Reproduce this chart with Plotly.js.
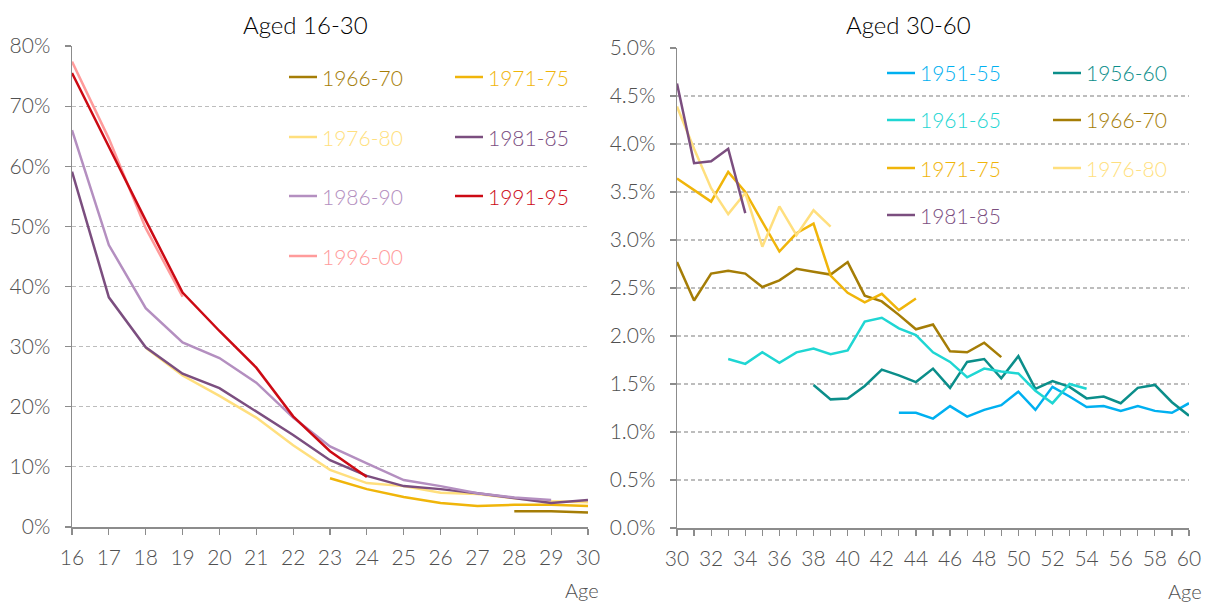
<!DOCTYPE html>
<html>
<head>
<meta charset="utf-8">
<script src="https://cdn.plot.ly/plotly-3.0.1.min.js"></script>
<style>html,body{margin:0;padding:0;background:#fff}#chart{width:1209px;height:602px}</style>
</head>
<body>
<div id="chart"></div>
<script>
// ---------- Data: left panel (Aged 16-30), values in % ----------
const leftAges = [16,17,18,19,20,21,22,23,24,25,26,27,28,29,30];
const left_1966_70 = [null,null,null,null,null,null,null,null,null,null,null,null,2.6,2.6,2.4];
const left_1971_75 = [null,null,null,null,null,null,null,8.1,6.3,5.0,4.0,3.5,3.7,3.7,3.5];
const left_1976_80 = [null,null,29.8,25.2,21.8,18.2,13.6,9.5,7.3,6.8,5.7,5.5,4.8,4.3,4.1];
const left_1981_85 = [59.1,38.2,29.9,25.5,23.1,19.2,15.3,11.1,8.5,6.8,6.3,5.6,4.8,4.0,4.5];
const left_1986_90 = [66.0,46.9,36.4,30.7,28.1,24.0,18.2,13.4,10.6,7.8,6.8,5.6,4.9,4.5,null];
const left_1991_95 = [75.5,63.2,51.0,39.0,32.6,26.5,18.4,12.6,8.3,null,null,null,null,null,null];
const left_1996_00 = [77.4,64.6,49.7,38.3,null,null,null,null,null,null,null,null,null,null,null];

// ---------- Data: right panel (Aged 30-60), values in % ----------
const rightAges = [30,31,32,33,34,35,36,37,38,39,40,41,42,43,44,45,46,47,48,49,50,51,52,53,54,55,56,57,58,59,60];
const right_1951_55_start = 43;
const right_1951_55 = [1.20,1.20,1.14,1.27,1.16,1.23,1.28,1.42,1.23,1.47,1.37,1.26,1.27,1.22,1.27,1.22,1.20,1.30];
const right_1956_60_start = 38;
const right_1956_60 = [1.49,1.34,1.35,1.48,1.65,1.59,1.52,1.66,1.46,1.73,1.76,1.56,1.79,1.45,1.53,1.47,1.35,1.37,1.30,1.46,1.49,1.31,1.17];
const right_1961_65_start = 33;
const right_1961_65 = [1.76,1.71,1.83,1.72,1.83,1.87,1.81,1.85,2.15,2.19,2.08,2.01,1.83,1.73,1.57,1.66,1.63,1.61,1.43,1.30,1.50,1.45];
const right_1966_70_start = 30;
const right_1966_70 = [2.77,2.37,2.65,2.68,2.65,2.51,2.58,2.70,2.67,2.64,2.77,2.42,2.36,2.22,2.07,2.12,1.84,1.83,1.93,1.78];
const right_1971_75_start = 30;
const right_1971_75 = [3.64,3.52,3.40,3.71,3.50,3.19,2.88,3.07,3.17,2.63,2.45,2.35,2.44,2.27,2.39];
const right_1976_80_start = 30;
const right_1976_80 = [4.39,3.95,3.54,3.27,3.49,2.93,3.35,3.05,3.31,3.14];
const right_1981_85_start = 30;
const right_1981_85 = [4.63,3.80,3.82,3.95,3.28];

// ---------- Series names & colours ----------
const cohortColors = {
  '1951-55':'#00B0F0','1956-60':'#0B8E8A','1961-65':'#1FD6D3','1966-70':'#A57D06',
  '1971-75':'#F0B50A','1976-80':'#FFDF7E','1981-85':'#7B4E7F','1986-90':'#B48FC0',
  '1991-95':'#CC0A14','1996-00':'#FF9B9B'
};

function pad(start, vals){
  return rightAges.map(a => (a >= start && a - start < vals.length) ? vals[a - start] : null);
}

const leftSeries = [
  ['1966-70', left_1966_70],['1971-75', left_1971_75],['1976-80', left_1976_80],
  ['1981-85', left_1981_85],['1986-90', left_1986_90],['1996-00', left_1996_00],['1991-95', left_1991_95]
];
const rightSeries = [
  ['1951-55', pad(right_1951_55_start, right_1951_55)],
  ['1956-60', pad(right_1956_60_start, right_1956_60)],
  ['1961-65', pad(right_1961_65_start, right_1961_65)],
  ['1966-70', pad(right_1966_70_start, right_1966_70)],
  ['1971-75', pad(right_1971_75_start, right_1971_75)],
  ['1976-80', pad(right_1976_80_start, right_1976_80)],
  ['1981-85', pad(right_1981_85_start, right_1981_85)]
];

const traces = [];
leftSeries.forEach(([n, v]) => traces.push({
  type:'scatter', mode:'lines', name:n, x:leftAges, y:v, xaxis:'x', yaxis:'y',
  line:{color:cohortColors[n], width:2.5}, showlegend:false, hoverinfo:'x+y+name'
}));
rightSeries.forEach(([n, v]) => traces.push({
  type:'scatter', mode:'lines', name:n, x:rightAges, y:v, xaxis:'x2', yaxis:'y2',
  line:{color:cohortColors[n], width:2.5}, showlegend:false, hoverinfo:'x+y+name'
}));

// ---------- Layout helpers ----------
const W = 1209, H = 602;
const px = x => x / W;
const py = y => 1 - y / H;
const FONT = 'Lato, "Open Sans", sans-serif';
const WEIGHT = 300;
const tickGrey = '#505050';
const axisGrey = '#8C8C8C';

// legend layout (custom, two columns)
const leftLegendOrder = ['1966-70','1971-75','1976-80','1981-85','1986-90','1991-95','1996-00'];
const rightLegendOrder = ['1951-55','1956-60','1961-65','1966-70','1971-75','1976-80','1981-85'];
const annotations = [];
const shapes = [];
function addLegend(order, colX, rowY){
  order.forEach((n, i) => {
    const cx = colX[i % 2], cy = rowY[Math.floor(i / 2)];
    shapes.push({type:'line', xref:'paper', yref:'paper', x0:px(cx-31), x1:px(cx-3), y0:py(cy), y1:py(cy),
      line:{color:cohortColors[n], width:2.5}});
    annotations.push({xref:'paper', yref:'paper', x:px(cx), y:py(cy), xanchor:'left', yanchor:'middle',
      text:n, showarrow:false, font:{family:FONT, size:21, weight:WEIGHT, color:cohortColors[n]}});
  });
}
addLegend(leftLegendOrder, [320, 486], [77, 137, 196, 256]);
addLegend(rightLegendOrder, [918, 1084], [73, 120, 168, 215]);

annotations.push({xref:'paper', yref:'paper', x:px(305), y:py(24), xanchor:'center', yanchor:'middle',
  text:'Aged 16-30', showarrow:false, font:{family:FONT, size:24, weight:WEIGHT, color:'#000'}});
annotations.push({xref:'paper', yref:'paper', x:px(908), y:py(24), xanchor:'center', yanchor:'middle',
  text:'Aged 30-60', showarrow:false, font:{family:FONT, size:24, weight:WEIGHT, color:'#000'}});
annotations.push({xref:'paper', yref:'paper', x:px(601), y:py(590), xanchor:'right', yanchor:'middle',
  text:'Age', showarrow:false, font:{family:FONT, size:20, weight:WEIGHT, color:tickGrey}});
annotations.push({xref:'paper', yref:'paper', x:px(1204), y:py(591), xanchor:'right', yanchor:'middle',
  text:'Age', showarrow:false, font:{family:FONT, size:20, weight:WEIGHT, color:tickGrey}});

const xCommon = {
  showline:true, linecolor:axisGrey, linewidth:1.5, ticks:'outside', ticklen:6, tickcolor:axisGrey, tickwidth:1.2,
  showgrid:false, zeroline:false, tickfont:{family:FONT, size:21, weight:WEIGHT, color:tickGrey}, ticklabelstandoff:5, fixedrange:true
};
const yCommon = {
  showline:true, linecolor:axisGrey, linewidth:1.5, ticks:'outside', ticklen:6, tickcolor:axisGrey, tickwidth:1.2,
  showgrid:true, gridcolor:'#BDBDBD', gridwidth:1.2, griddash:'4px,3px', zeroline:false,
  tickfont:{family:FONT, size:21, weight:WEIGHT, color:tickGrey}, ticksuffix:'%', ticklabelstandoff:10, fixedrange:true
};

const layout = {
  width:W, height:H, margin:{l:0, r:0, t:0, b:0}, paper_bgcolor:'#fff', plot_bgcolor:'#fff',
  showlegend:false, font:{family:FONT, weight:WEIGHT},
  xaxis: Object.assign({}, xCommon, {domain:[px(72), px(588)], range:[16,30], dtick:1, tick0:16, anchor:'y'}),
  yaxis: Object.assign({}, yCommon, {domain:[py(527), py(46)], range:[0,80], dtick:10, tick0:0, anchor:'x'}),
  xaxis2: Object.assign({}, xCommon, {domain:[px(677), px(1189)], range:[30,60], dtick:2, tick0:30, anchor:'y2',
    minor:{dtick:1, tick0:30, ticks:'outside', ticklen:6, tickcolor:axisGrey, tickwidth:1.2, showgrid:false}}),
  yaxis2: Object.assign({}, yCommon, {domain:[py(528), py(48)], range:[0,5], dtick:0.5, tick0:0, tickformat:'.1f', anchor:'x2'}),
  annotations: annotations,
  shapes: shapes
};

Plotly.newPlot('chart', traces, layout, {staticPlot:true, displayModeBar:false});
</script>
</body>
</html>
